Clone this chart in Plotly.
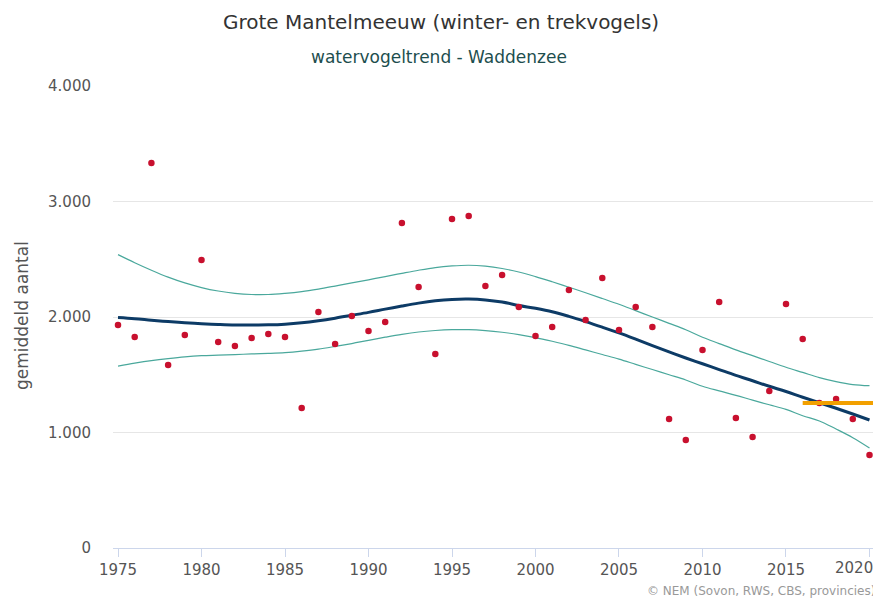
import plotly.graph_objects as go

years = list(range(1975, 2021))
counts = [1931, 1827, 3333, 1584, 1844, 2494, 1784, 1749, 1818, 1853,
          1827, 1212, 2043, 1766, 2009, 1879, 1957, 2814, 2260, 1680,
          2848, 2874, 2268, 2364, 2087, 1835, 1913, 2234, 1974, 2338,
          1887, 2087, 1913, 1117, 935, 1714, 2130, 1126, 961, 1359,
          2113, 1810, 1255, 1290, 1117, 805]
trend = [1995, 1985, 1972, 1960, 1950, 1942, 1935, 1930, 1930, 1932,
         1938, 1950, 1968, 1990, 2015, 2040, 2068, 2095, 2120, 2140,
         2152, 2155, 2148, 2130, 2100, 2075, 2045, 2005, 1960, 1912,
         1862, 1808, 1752, 1698, 1645, 1595, 1545, 1495, 1448, 1400,
         1355, 1305, 1258, 1210, 1160, 1108]
upper = [2540, 2470, 2405, 2345, 2295, 2255, 2225, 2205, 2195, 2195,
         2205, 2220, 2242, 2268, 2295, 2322, 2350, 2378, 2405, 2428,
         2442, 2448, 2440, 2420, 2390, 2350, 2305, 2258, 2210, 2160,
         2110, 2055, 2000, 1945, 1890, 1825, 1770, 1715, 1665, 1615,
         1565, 1520, 1475, 1440, 1415, 1405]
lower = [1575, 1600, 1622, 1640, 1655, 1665, 1670, 1675, 1680, 1685,
         1692, 1705, 1722, 1745, 1770, 1798, 1825, 1850, 1870, 1883,
         1890, 1890, 1882, 1868, 1848, 1822, 1790, 1755, 1715, 1675,
         1635, 1590, 1545, 1500, 1455, 1400, 1360, 1322, 1280, 1240,
         1200, 1145, 1100, 1030, 955, 866]
recent_years = [2016, 2020.25]
recent_level = [1255, 1255]

x_tick_vals = [1975, 1980, 1985, 1990, 1995, 2000, 2005, 2010, 2015, 2020]
x_tick_labels = ["1975", "1980", "1985", "1990", "1995", "2000", "2005",
                 "2010", "2015", "2020"]

title_text = "Grote Mantelmeeuw (winter- en trekvogels)"
subtitle_text = "watervogeltrend - Waddenzee"
yaxis_title = "gemiddeld aantal"
credit_text = "© NEM (Sovon, RWS, CBS, provincies)"

# The page body has an 8px margin; compensate so the figure fills the window.
OFF = 8
W, H = 881 - OFF, 599 - OFF
ML, MR, MT, MB = 113 - OFF, 4, 86 - OFF, 51
PW, PH = W - ML - MR, H - MT - MB
BOTTOM = H - MB  # plot bottom in figure px


def sx(px):  # screen x -> paper
    return (px - OFF - ML) / PW


def sy(py):  # screen y -> paper
    return (BOTTOM - (py - OFF)) / PH


fig = go.Figure()
fig.add_trace(go.Scatter(x=years, y=upper, mode="lines",
                         line=dict(color="#4aa89c", width=1.2, shape="spline"),
                         hoverinfo="skip", showlegend=False))
fig.add_trace(go.Scatter(x=years, y=lower, mode="lines",
                         line=dict(color="#4aa89c", width=1.2, shape="spline"),
                         hoverinfo="skip", showlegend=False))
fig.add_trace(go.Scatter(x=years, y=trend, mode="lines",
                         line=dict(color="#0d3b66", width=3, shape="spline"),
                         showlegend=False))
fig.add_trace(go.Scatter(x=years, y=counts, mode="markers",
                         marker=dict(color="#c8102e", size=6.5),
                         showlegend=False))
fig.add_trace(go.Scatter(x=recent_years, y=recent_level, mode="lines",
                         line=dict(color="#f2a000", width=4),
                         showlegend=False))

font_family = "DejaVu Sans, Verdana, sans-serif"

# last tick label is shifted left (as in the reference) via an annotation
shown_labels = x_tick_labels[:-1] + [""]

fig.update_layout(
    width=W, height=H,
    margin=dict(l=ML, r=MR, t=MT, b=MB),
    paper_bgcolor="white", plot_bgcolor="white",
    separators=",.",
    font=dict(family=font_family, color="#555555"),
    xaxis=dict(range=[1974.7, 2020.45], tickmode="array",
               tickvals=x_tick_vals, ticktext=shown_labels,
               showgrid=False, zeroline=False,
               showline=True, linecolor="#ccd6eb", linewidth=1,
               ticks="outside", ticklen=8, tickcolor="#ccd6eb",
               tickfont=dict(size=15, color="#555555")),
    yaxis=dict(range=[0, 4000], tick0=0, dtick=1000, tickformat=",d",
               showgrid=True, gridcolor="#e6e6e6", zeroline=False,
               showline=False, ticks="outside", ticklen=18,
               tickcolor="rgba(0,0,0,0)",
               tickfont=dict(size=15, color="#555555")),
    annotations=[
        dict(text=title_text, xref="paper", yref="paper",
             x=sx(440.5), y=sy(22),
             xanchor="center", yanchor="middle", showarrow=False,
             font=dict(size=20, color="#333333", family=font_family)),
        dict(text=subtitle_text, xref="paper", yref="paper",
             x=sx(439), y=sy(57),
             xanchor="center", yanchor="middle", showarrow=False,
             font=dict(size=17, color="#1d4e4e", family=font_family)),
        dict(text=yaxis_title, xref="paper", yref="paper",
             x=sx(22), y=sy(316),
             xanchor="center", yanchor="middle", textangle=-90,
             showarrow=False,
             font=dict(size=17, color="#555555", family=font_family)),
        dict(text=x_tick_labels[-1], xref="x", yref="paper",
             x=x_tick_vals[-1], y=sy(568), xshift=-15,
             xanchor="center", yanchor="middle", showarrow=False,
             font=dict(size=15, color="#555555", family=font_family)),
        dict(text=credit_text, xref="paper", yref="paper",
             x=sx(877), y=sy(591),
             xanchor="right", yanchor="middle", showarrow=False,
             font=dict(size=12, color="#999999", family=font_family)),
    ],
)

fig.write_html("out.html")
